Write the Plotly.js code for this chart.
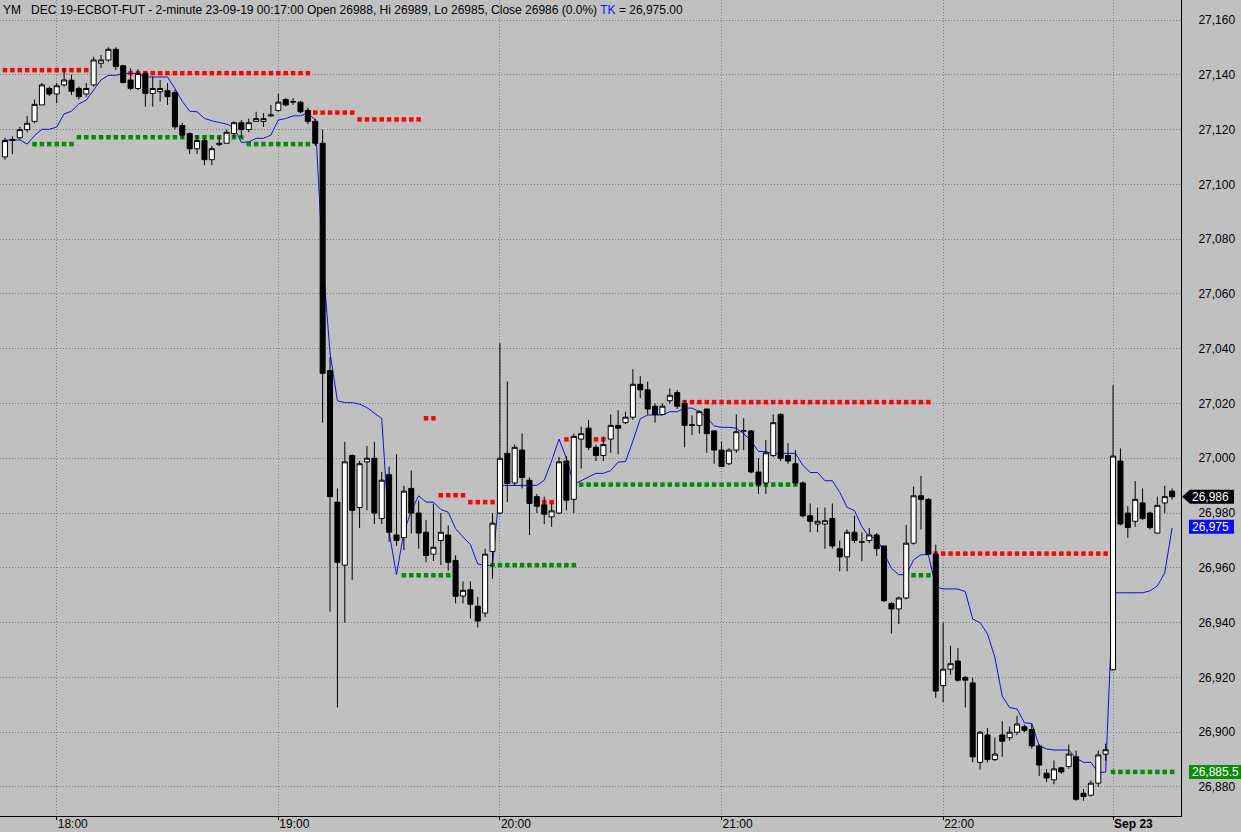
<!DOCTYPE html>
<html><head><meta charset="utf-8">
<script src="https://cdn.plot.ly/plotly-3.0.1.min.js"></script>
<style>html,body{margin:0;padding:0;background:#c0c0c0;overflow:hidden}#chart{width:1241px;height:832px}</style>
</head><body><div id="chart"></div>
<script>
// ---- data (2-minute bars, index 0..158) ----
const openP = [
27110,27116,27117,27120,27123,27129,27135,27133,27136.3,27138,
27135,27133,27136.3,27144.2,27145.4,27149.3,27143.3,27138.1,27135,27140.5,
27133.2,27133.8,27134.2,27133.5,27121.5,27118.5,27113,27116,27109,27114.5,
27115,27118.5,27122.5,27120,27123,27123,27125,27127,27131,27130,
27130,27127,27123,27115,27032,26984,26961,27001,26982,26998.7,
27000,26978,26994,26972,26971,26989,26980,26973,26965,26970,
26972,26962.7,26949.7,26952,26946,26943.5,26966,26980,27001.8,26991,
27003,26992,26986,26983,26978.6,26980,26999,26985,27007,27011,
27004,27001,27007,27012,27013,27015,27027,27025,27019,27016,
27021,27024,27020,27012,27012,27018,27010,27003,26998,27003,
27010,27010,26995,26991,27001,27016,27001,26998,26991,26979,
26976,26976,26978,26967,26964,26973,26969.3,26970,26972,26968,
26947,26945,26949,26969,26986.3,26985,26965,26917,26923,26926,
26920,26918,26889,26899,26890,26899,26898,26900,26902,26901,
26895,26885,26882.6,26887,26887.5,26891,26877.7,26877,26881.4,26892,
26922.8,26999,26980,26977,26983.7,26980,26972.7,26983.7,26988];
const highP = [
27117,27117.5,27121,27125,27131,27137,27135.7,27137,27142.4,27140,
27135.7,27137,27146.6,27147.2,27150,27150,27143.6,27142.4,27142,27141.1,
27139.3,27138.1,27137,27134.5,27122.5,27119,27118,27117,27114,27117.5,
27120,27123,27123.5,27124,27126.5,27126,27129,27133,27131.5,27131.5,
27130.5,27128,27124,27120,27037,26989,27006,27001.5,26999,27004.5,
27006,26995,26997,27001.5,26990,26995.5,26984.5,26977.5,26983.5,26980,
26975.5,26964.6,26955,26955,26949.4,26967,26980,27042,27028,27005,
27009,26993,26987,26986,26983.5,27000.5,27000.8,27009,27011.5,27014,
27005,27008,27016,27017.5,27017,27032.5,27030,27028,27020,27020,
27025.5,27025,27021,27015.7,27017.5,27018,27010,27006,27003.6,27016,
27014.6,27010.3,27000,27006.7,27016,27016.5,27005.5,27003,26991.5,26983.5,
26982,26982,26983.5,26970,26974,26979,26973,26974.5,26972.7,26968,
26947.5,26949.5,26975.7,26989.7,26993.6,26985.5,26968.5,26940,26931.6,26930.7,
26920.5,26920,26900.5,26901.5,26898,26904,26902,26906,26902.8,26903,
26895.5,26886.6,26889.7,26887.3,26895.5,26893.3,26879.3,26882.4,26893.3,26895.8,
27026.7,27003.6,26982.5,26991.7,26989,26980.5,26986,26990,26989];
const lowP = [
27109,27111,27116.4,27119,27122.3,27129,27132.3,27129.6,27135.7,27132.6,
27131,27132,27135.7,27142.4,27144.8,27141.7,27136.9,27134.4,27134.4,27128.4,
27128.4,27130.2,27129,27120,27117,27111,27111,27107,27107,27114,
27115,27117,27117,27119,27123,27121,27124.7,27126.5,27128.5,27129,
27126,27122,27114,27013,26944,26909,26940,26955.5,26974.5,26981,
26976,26976,26969.5,26968,26966.5,26972.5,26967,26962,26962.5,26961,
26959,26947,26947,26941.5,26938.2,26942,26956,26979.5,26984,26990,
26989,26972,26980,26976,26975,26979.6,26981,26980,26996.3,27003,
26999,26999,27002,27001.5,27012.5,27014,27022,27016,27013,27015.7,
27020,27018,27004,27008.4,27009,27002,26998,26997,26997.5,27002,
27003,26994.5,26987,26987,27000.5,26999,26998,26990,26978.5,26973,
26973,26967,26967,26958.7,26958.7,26969,26962.4,26969,26964.4,26947.5,
26936,26939.5,26948.5,26968.5,26974,26965,26912.5,26911,26921,26918.5,
26909,26889,26886.3,26889,26889.5,26891,26897,26899,26900,26894,
26884,26881.8,26881,26884.8,26886.6,26875,26875,26876.5,26880,26889.6,
26922.5,26975.5,26971,26975,26977.5,26974,26972.5,26980,26985];
const closeP = [
27116,27116.3,27120,27122.3,27129.2,27136.3,27133,27136,27138.1,27134,
27132,27135,27145.4,27145.4,27149.3,27143,27137.2,27135,27140.5,27133.2,
27135,27135,27132,27121,27118,27113,27116,27109,27113,27115,
27119,27122.5,27120,27122.5,27124,27124,27125.3,27130,27129,27130.2,
27126.5,27123,27115,27031,26986,26962,26998.7,26981,26998,27000,
26980,26992,26973,26970,26988,26980,26972.7,26964.5,26967.5,26973,
26962,26949.6,26951.8,26946.7,26940.6,26965,26976.3,27000,26990.8,27004,
26993,26983.5,26982.5,26979.6,26980.8,26998.7,26984.7,27008,27009,27004,
27001,27005,27012,27011,27015,27027,27025,27018,27016,27019,
27023,27019,27012,27012.2,27017,27009,27003,26997,27003,27009.7,
27010,26995,26990.3,27002,27013,27000,26999,26991,26979,26977,
26977,26977.2,26968,26964,26973,26970,26969.5,26972,26967,26948,
26945,26949,26969,26986.3,26985,26965,26915,26923,26925,26919,
26919,26891,26900,26890,26892,26896.7,26900,26903,26900.7,26895,
26888,26883.3,26886.6,26885.5,26892,26875.5,26876.5,26881.4,26891.7,26893.6,
27000.8,26976,26974.7,26985,26978,26974.7,26982.8,26986,26986];
// TK line
const tkLine = [
27116.2,27116.2,27116.2,27114.7,27117.8,27120.1,27120.1,27120.9,27125.7,27126.7,
27129.4,27130.7,27134.5,27138.1,27139.8,27139.8,27140.5,27140.5,27140.5,27139.2,
27139.2,27139.2,27139.2,27135,27130.3,27126.7,27126.5,27124.1,27123.2,27122.6,
27122,27120.8,27115.3,27115.5,27116.8,27116.8,27118,27123.5,27124,27125,
27125,27126,27123.5,27073,27038.5,27021,27020.3,27020.3,27019.8,27018.5,
27016.5,27014.5,26973,26957.5,26973,26980.8,26986.3,26984,26984,26981.3,
26980.3,26974.3,26971.3,26968.5,26961.4,26960.9,26960.9,26990.1,26990.1,26990.1,
26990.1,26990.1,26990.1,26992,26999,27007,27000,26990.5,26991.8,26993,
26994.5,26994.5,26995.5,26998.6,26998.8,27006.3,27014.4,27015.8,27015.8,27015.8,
27017,27017,27018.3,27018.3,27017,27015,27011.8,27011.3,27011.3,27011,
27009,27006.3,27002.5,27002.5,27001.5,27001.8,27001.8,27001.8,26997.5,26994.8,
26994.8,26991.8,26991.8,26987.6,26982.1,26980.9,26975.1,26971.1,26971.1,26965.5,
26959.8,26957.5,26957.5,26962.9,26964.8,26964.8,26953.1,26952.3,26952.3,26952.3,
26951.3,26941.3,26940,26935.9,26927.4,26913.2,26909,26908.5,26903.4,26903.2,
26895,26893.9,26893.5,26893.5,26893.5,26890.5,26889,26889,26885.3,26885.4,
26950.9,26950.9,26950.9,26950.9,26950.9,26951.6,26953.4,26958.2,26974.6];
// resistance (red) and support (green) dotted levels: level, first bar, last bar
const resLevel = [27141.7,27140.6,27126.2,27123.7,27014.6,26986.5,26984,26984,27006.9,27006.9,27020.5,26965.2];
const resFrom  = [0,17,42,48,57,59,63,73,76,80,92,126];
const resTo    = [11,41,47,56,58,62,66,74,76,81,125,149];
const supLevel = [27114.7,27117.2,27114.7,26957.3,26961,26990.4,26957.3,26885.5];
const supFrom  = [4,10,33,54,66,78,123,150];
const supTo    = [9,32,41,60,77,107,125,158];
// axis labels
const timeTickBars = [7,37,67,97,127,150];
const timeTickText = ['18:00','19:00','20:00','21:00','22:00','<b>Sep 23</b>'];
const lastPrice = 26986;
const tkValue = 26975;
const supportValue = 26885.5;
const titleText = 'YM&nbsp;&nbsp;&nbsp;DEC 19-ECBOT-FUT - 2-minute 23-09-19 00:17:00 Open 26988, Hi 26989, Lo 26985, Close 26986 (0.0%) <span style="color:#1414ff">TK</span> = 26,975.00';

// ---- build ----
const bars = openP.map((_, i) => i);
function expand(levels, from, to) {
  const xs = [], ys = [];
  levels.forEach((lv, k) => { for (let i = from[k]; i <= to[k]; i++) { xs.push(i); ys.push(lv); } });
  return {xs, ys};
}
const res = expand(resLevel, resFrom, resTo);
const sup = expand(supLevel, supFrom, supTo);
const FONT = 'Liberation Sans, Arial, sans-serif';
const yRange = [26869.41, 27167.30];
const xRange = [-0.677, 159.2];

const traces = [
  {type:'scatter', mode:'markers', x:res.xs, y:res.ys, xaxis:'x', yaxis:'y',
   marker:{symbol:'square', size:4.5, color:'#ff0000', line:{width:0}}, hoverinfo:'skip'},
  {type:'scatter', mode:'markers', x:sup.xs, y:sup.ys, xaxis:'x', yaxis:'y',
   marker:{symbol:'square', size:4.5, color:'#008a00', line:{width:0}}, hoverinfo:'skip'},
  {type:'scatter', mode:'lines', x:bars, y:tkLine, xaxis:'x', yaxis:'y',
   line:{color:'#1010d8', width:1}, hoverinfo:'skip'},
  {type:'candlestick', x:bars, open:openP, high:highP, low:lowP, close:closeP,
   xaxis:'x', yaxis:'y2', whiskerwidth:0,
   increasing:{line:{color:'#000000', width:1}, fillcolor:'#ffffff'},
   decreasing:{line:{color:'#000000', width:1}, fillcolor:'#000000'},
   hoverinfo:'skip'}
];

const shapes = [
  {type:'path', xref:'paper', xsizemode:'pixel', xanchor:1, yref:'y', ysizemode:'pixel', yanchor:lastPrice,
   path:'M 1 0 L 9 -7 L 53 -7 L 53 7 L 9 7 Z', fillcolor:'#000000', line:{width:0}},
  {type:'rect', xref:'paper', xsizemode:'pixel', xanchor:1, x0:8, x1:53, yref:'y', ysizemode:'pixel', yanchor:tkValue,
   y0:-7, y1:7, fillcolor:'#0a0aff', line:{width:0}},
  {type:'rect', xref:'paper', xsizemode:'pixel', xanchor:1, x0:8, x1:61, yref:'y', ysizemode:'pixel', yanchor:supportValue,
   y0:-7, y1:7, fillcolor:'#0a8c0a', line:{width:0}}
];

const fmt = v => v.toLocaleString('en-US', {maximumFractionDigits:1});
const annotations = [
  {xref:'paper', yref:'paper', x:0, y:1, xanchor:'left', yanchor:'top', xshift:1, yshift:-1, showarrow:false,
   text:titleText, font:{family:FONT, size:12, color:'#000000'}},
  {xref:'paper', yref:'y', x:1, y:lastPrice, xanchor:'left', yanchor:'middle', xshift:9, showarrow:false,
   text:fmt(lastPrice), font:{family:FONT, size:12, color:'#ffffff'}},
  {xref:'paper', yref:'y', x:1, y:tkValue, xanchor:'left', yanchor:'middle', xshift:9, showarrow:false,
   text:fmt(tkValue), font:{family:FONT, size:12, color:'#ffffff'}},
  {xref:'paper', yref:'y', x:1, y:supportValue, xanchor:'left', yanchor:'middle', xshift:9, showarrow:false,
   text:fmt(supportValue), font:{family:FONT, size:12, color:'#ffffff'}}
];

const layout = {
  width:1241, height:832,
  margin:{l:0, r:60, t:0, b:16, pad:0},
  paper_bgcolor:'#c0c0c0', plot_bgcolor:'#c0c0c0',
  showlegend:false, boxgap:0.32, boxgroupgap:0,
  font:{family:FONT, size:12, color:'#000000'},
  xaxis:{type:'linear', range:xRange, tickmode:'array', tickvals:timeTickBars, ticktext:timeTickText,
         ticks:'outside', ticklen:3, tickcolor:'#000000', ticklabelposition:'outside right', ticklabelstandoff:-3,
         showgrid:true, gridcolor:'#7a7a7a', griddash:'1px,2px', gridwidth:1, zeroline:false,
         showline:true, linecolor:'#000000', linewidth:1, rangeslider:{visible:false},
         tickfont:{family:FONT, size:12, color:'#000000'}, fixedrange:true},
  yaxis:{side:'right', range:yRange, tick0:26880, dtick:20, tickformat:',', ticks:'', ticklabelstandoff:14,
         showgrid:true, gridcolor:'#7a7a7a', griddash:'1px,2px', gridwidth:1, zeroline:false,
         showline:true, linecolor:'#000000', linewidth:1,
         tickfont:{family:FONT, size:12, color:'#000000'}, fixedrange:true},
  yaxis2:{overlaying:'y', side:'right', range:yRange, showgrid:false, zeroline:false, showline:false,
          showticklabels:false, ticks:'', fixedrange:true},
  shapes:shapes, annotations:annotations
};
Plotly.newPlot('chart', traces, layout, {staticPlot:true, displayModeBar:false});
</script></body></html>
